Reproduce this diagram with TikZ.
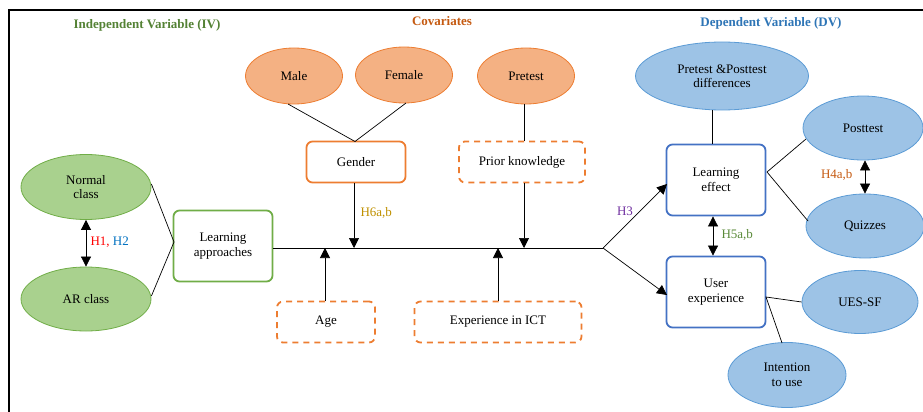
\documentclass[tikz,border=0pt]{standalone}
\usepackage{fontspec}
\setmainfont{Liberation Serif}
\usetikzlibrary{arrows.meta,shapes.geometric}
\definecolor{gfill}{HTML}{A9D18E}
\definecolor{gdraw}{HTML}{70AD47}
\definecolor{ofill}{HTML}{F4B183}
\definecolor{odraw}{HTML}{ED7D31}
\definecolor{bfill}{HTML}{9DC3E6}
\definecolor{bdraw}{HTML}{5B9BD5}
\definecolor{bbox}{HTML}{4472C4}
\definecolor{tgreen}{HTML}{548235}
\definecolor{torange}{HTML}{C55A11}
\definecolor{tblue}{HTML}{2E75B6}
\definecolor{hgold}{HTML}{BF9000}
\definecolor{hpurple}{HTML}{7030A0}
\definecolor{hred}{HTML}{FF0000}
\definecolor{hblue}{HTML}{0070C0}
\tikzset{
  every node/.style={font=\fontsize{13}{14.5}\selectfont, align=center},
  ell/.style={ellipse, inner sep=0pt, line width=0.8pt},
  gell/.style={ell, draw=gdraw, fill=gfill},
  oell/.style={ell, draw=odraw, fill=ofill},
  bell/.style={ell, draw=bdraw, fill=bfill},
  rbox/.style={rectangle, rounded corners=6pt, fill=white, line width=1.8pt, inner sep=0pt},
  gbox/.style={rbox, draw=gdraw},
  obox/.style={rbox, draw=odraw},
  odbox/.style={rbox, draw=odraw, dash pattern=on 6pt off 5pt},
  bbx/.style={rbox, draw=bbox},
  conn/.style={line width=0.7pt},
  arr/.style={conn, -{Triangle[width=10pt,length=10pt]}},
  darr/.style={conn, {Triangle[width=10pt,length=10pt]}-{Triangle[width=10pt,length=10pt]}},
  ttl/.style={font=\fontsize{13}{14.5}\selectfont\bfseries}
}
\begin{document}
\begin{tikzpicture}[x=1pt,y=-1pt]
\useasboundingbox (0,0) rectangle (923,412);
% frame
\draw[line width=1.2pt] (9,412) -- (9,10) -- (923,10);
% titles
\node[ttl, text=tgreen] (tiv) at (147,25) {Independent Variable (IV)};
\node[ttl, text=torange] (tcov) at (442,21) {Covariates};
\node[ttl, text=tblue] (tdv) at (771,23) {Dependent Variable (DV)};
% IV
\node[gell, minimum width=130pt, minimum height=65pt] (normal) at (86,187) {Normal\\class};
\node[gell, minimum width=130pt, minimum height=64pt] (ar) at (86,299) {AR class};
\node[gbox, minimum width=99pt, minimum height=71pt] (la) at (223,246) {Learning\\approaches};
\coordinate (laj) at (174,242);
\draw[conn] (normal.east) ++(0,-3) -- (laj);
\draw[conn] (ar.east) ++(0,-3) -- (laj);
\draw[darr] (normal.south) -- (ar.north);
\node[anchor=west] (h12) at (87,242) {\textcolor{hred}{H1,} \textcolor{hblue}{H2}};
% covariates
\node[oell, minimum width=97pt, minimum height=56pt] (male) at (294,76) {Male};
\node[oell, minimum width=97pt, minimum height=56pt] (female) at (404,75) {Female};
\node[oell, minimum width=97pt, minimum height=56pt] (pretest) at (526,76) {Pretest};
\node[obox, minimum width=99pt, minimum height=41pt] (gender) at (356,162) {Gender};
\node[odbox, minimum width=126pt, minimum height=41pt] (prior) at (522,162) {Prior knowledge};
\node[odbox, minimum width=98pt, minimum height=41pt] (age) at (326,322) {Age};
\node[odbox, minimum width=167pt, minimum height=41pt] (ict) at (498,322) {Experience in ICT};
\coordinate (gtop) at (355,141.5);
\coordinate (malej) at (288,104);
\coordinate (femj) at (406,103);
\draw[conn] (malej) -- (gtop) -- (femj);
\draw[conn] (pretest.south -| prior.north) ++(2,0) coordinate (pj) -- (pj |- prior.north);
% main line
\coordinate (split) at (603,248);
\draw[conn] (la.east |- split) -- (split);
\coordinate (gm) at (354,248);
\coordinate (pm) at (524,248);
\coordinate (am) at (325,248);
\coordinate (im) at (498,248);
\draw[arr] (gender.south -| gm) -- (gm);
\node[anchor=west, text=hgold] (h6) at (357,213) {H6a,b};
\draw[arr] (prior.south -| pm) -- (pm);
\draw[arr] (age.north -| am) -- (am);
\draw[arr] (ict.north -| im) -- (im);
% DV
\node[bell, minimum width=173pt, minimum height=68pt] (diff) at (722,76) {Pretest \&Posttest\\differences};
\node[bbx, minimum width=99pt, minimum height=71pt] (le) at (716,180) {Learning\\effect};
\node[bbx, minimum width=99pt, minimum height=71pt] (ue) at (716,292) {User\\experience};
\node[bell, minimum width=120pt, minimum height=64pt] (post) at (863,128) {Posttest};
\node[bell, minimum width=118pt, minimum height=64pt] (quiz) at (865,226) {Quizzes};
\node[bell, minimum width=116pt, minimum height=63pt] (ues) at (860,302) {UES-SF};
\node[bell, minimum width=118pt, minimum height=65pt] (intent) at (787,375) {Intention\\to use};
\coordinate (dj) at (712,110);
\draw[conn] (dj) -- (dj |- le.north);
\coordinate (lein) at (667,184);
\coordinate (uein) at (667,295);
\draw[arr] (split) -- (lein);
\draw[arr] (split) -- (uein);
\node[text=hpurple] (h3) at (625,211) {H3};
\coordinate (h5x) at (713,0);
\draw[darr] (le.south -| h5x) -- (ue.north -| h5x);
\node[anchor=west, text=gdraw!80!black] (h5) at (718,235) {H5a,b};
\coordinate (lej) at (767,172);
\coordinate (postj) at (806,139);
\coordinate (quizj) at (808,221);
\draw[conn] (postj) -- (lej) -- (quizj);
\coordinate (h4x) at (865,0);
\draw[darr] (post.south -| h4x) -- (quiz.north -| h4x);
\node[anchor=east, text=torange] (h4) at (856,175) {H4a,b};
\coordinate (uej) at (766,297);
\coordinate (intj) at (782,343);
\draw[conn] (ues.west) -- (uej) -- (intj);
\end{tikzpicture}
\end{document}
